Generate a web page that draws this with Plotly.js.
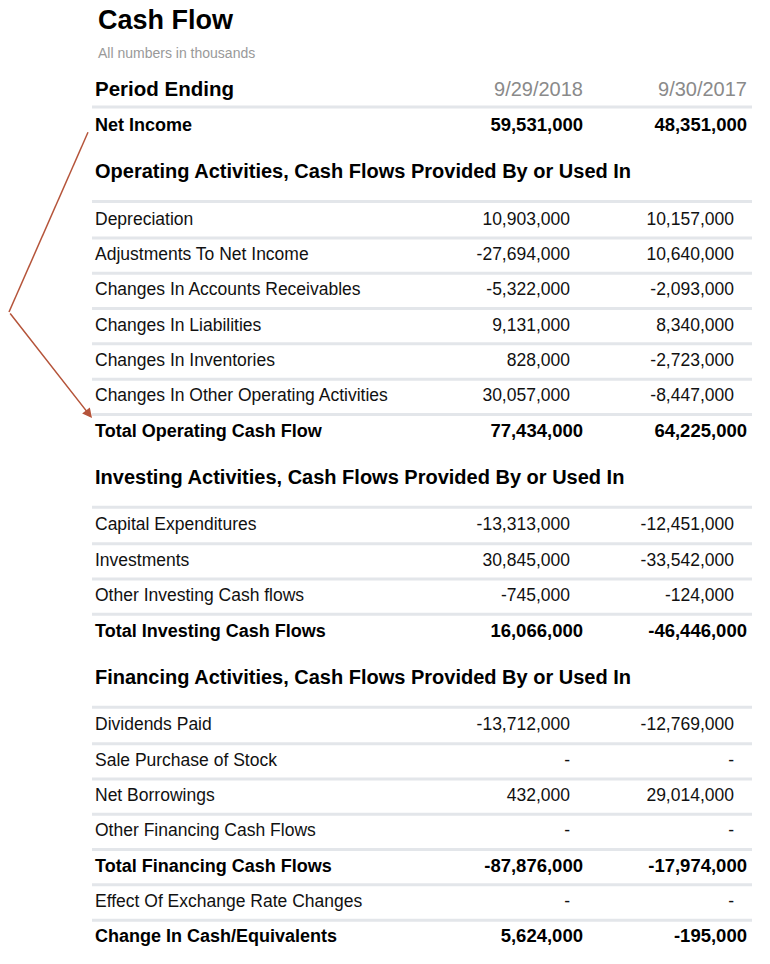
<!DOCTYPE html>
<html>
<head>
<meta charset="utf-8">
<script src="https://cdn.plot.ly/plotly-3.0.1.min.js"></script>
<style>html,body{margin:0;padding:0;background:#fff}#chart{width:770px;height:964px}</style>
</head>
<body>
<div id="chart"></div>
<script>
// row kinds: head = column header, total = bold row, sect = section header, row = plain row
const labels = [
  'Period Ending', 'Net Income',
  'Operating Activities, Cash Flows Provided By or Used In',
  'Depreciation', 'Adjustments To Net Income', 'Changes In Accounts Receivables',
  'Changes In Liabilities', 'Changes In Inventories', 'Changes In Other Operating Activities',
  'Total Operating Cash Flow',
  'Investing Activities, Cash Flows Provided By or Used In',
  'Capital Expenditures', 'Investments', 'Other Investing Cash flows',
  'Total Investing Cash Flows',
  'Financing Activities, Cash Flows Provided By or Used In',
  'Dividends Paid', 'Sale Purchase of Stock', 'Net Borrowings', 'Other Financing Cash Flows',
  'Total Financing Cash Flows', 'Effect Of Exchange Rate Changes', 'Change In Cash/Equivalents'
];
const kinds = [
  'head', 'total', 'sect', 'row', 'row', 'row', 'row', 'row', 'row', 'total',
  'sect', 'row', 'row', 'row', 'total', 'sect', 'row', 'row', 'row', 'row', 'total', 'row', 'total'
];
const col2018 = [
  '9/29/2018', '59,531,000', '', '10,903,000', '-27,694,000', '-5,322,000', '9,131,000', '828,000',
  '30,057,000', '77,434,000', '', '-13,313,000', '30,845,000', '-745,000', '16,066,000', '',
  '-13,712,000', '-', '432,000', '-', '-87,876,000', '-', '5,624,000'
];
const col2017 = [
  '9/30/2017', '48,351,000', '', '10,157,000', '10,640,000', '-2,093,000', '8,340,000', '-2,723,000',
  '-8,447,000', '64,225,000', '', '-12,451,000', '-33,542,000', '-124,000', '-46,446,000', '',
  '-12,769,000', '-', '29,014,000', '-', '-17,974,000', '-', '-195,000'
];

// vertical layout (pixels)
const ys = [];
let y = 91;
kinds.forEach((k, i) => {
  if (i > 0) {
    if (k === 'sect') y += 46.5;
    else if (kinds[i - 1] === 'sect') y += 47.5;
    else y += 35.3;
  }
  ys.push(y);
});

const F = 'Liberation Sans, Arial, sans-serif';
const traces = [];
function addText(xpos, texts, idx, pos, size, color, bold) {
  traces.push({
    type: 'scatter', mode: 'text', hoverinfo: 'skip', cliponaxis: false,
    x: idx.map(() => xpos), y: idx.map(i => ys[i]),
    text: idx.map(i => bold ? '<b>' + texts[i] + '</b>' : texts[i]),
    textposition: pos, textfont: {family: F, size: size, color: color}
  });
}
const all = labels.map((_, i) => i);
const boldIdx = all.filter(i => kinds[i] === 'total');
const rowIdx = all.filter(i => kinds[i] === 'row');
const sectIdx = all.filter(i => kinds[i] === 'sect');

addText(95, labels, [0], 'middle right', 20.5, '#000', true);
addText(95, labels, boldIdx, 'middle right', 18, '#000', true);
addText(95, labels, sectIdx, 'middle right', 20, '#000', true);
addText(95, labels, rowIdx, 'middle right', 17.5, '#111', false);
addText(583, col2018, [0], 'middle left', 20, '#8a8a8a', false);
addText(747, col2017, [0], 'middle left', 20, '#8a8a8a', false);
addText(583, col2018, boldIdx, 'middle left', 18.5, '#000', true);
addText(747, col2017, boldIdx, 'middle left', 18.5, '#000', true);
addText(570, col2018, rowIdx, 'middle left', 17.5, '#111', false);
addText(734, col2017, rowIdx, 'middle left', 17.5, '#111', false);

// separator lines below header, section headers and plain rows
const shapes = [];
all.forEach(i => {
  if (i === all.length - 1) return;
  const k = kinds[i], nk = kinds[i + 1];
  let ly = null;
  if (k === 'head') ly = ys[i] + 16;
  else if (k === 'sect') ly = (ys[i] + ys[i + 1]) / 2 + 5;
  else if ((k === 'row' || k === 'total') && nk !== 'sect') ly = (ys[i] + ys[i + 1]) / 2;
  if (ly !== null && !(k === 'total' && i === 1)) {
    shapes.push({type: 'line', xref: 'x', yref: 'y', x0: 92, x1: 752, y0: ly, y1: ly,
      line: {color: '#e3e6ea', width: 3}});
  }
});
// arrow from Net Income to Total Operating Cash Flow
shapes.push({type: 'path', xref: 'x', yref: 'y',
  path: 'M 88 ' + (ys[1] + 6) + ' L 9 312', line: {color: '#b5543a', width: 1.5}});

const layout = {
  width: 770, height: 964, margin: {l: 0, r: 0, t: 0, b: 0},
  paper_bgcolor: '#fff', plot_bgcolor: '#fff', showlegend: false,
  xaxis: {range: [0, 770], visible: false, fixedrange: true},
  yaxis: {range: [964, 0], visible: false, fixedrange: true},
  shapes: shapes,
  annotations: [
    {x: 96, y: 20, xref: 'x', yref: 'y', text: '<b>Cash Flow</b>', showarrow: false,
      xanchor: 'left', yanchor: 'middle', font: {family: F, size: 27, color: '#000'}},
    {x: 96, y: 53, xref: 'x', yref: 'y', text: 'All numbers in thousands', showarrow: false,
      xanchor: 'left', yanchor: 'middle', font: {family: F, size: 14, color: '#999'}},
    {x: 92, y: ys[9] - 14, ax: 9, ay: 312, xref: 'x', yref: 'y', axref: 'x', ayref: 'y',
      text: '', showarrow: true, arrowhead: 2, arrowsize: 1.3, arrowwidth: 1.5, arrowcolor: '#b5543a'}
  ]
};

Plotly.newPlot('chart', traces, layout, {displayModeBar: false, staticPlot: true});
</script>
</body>
</html>
